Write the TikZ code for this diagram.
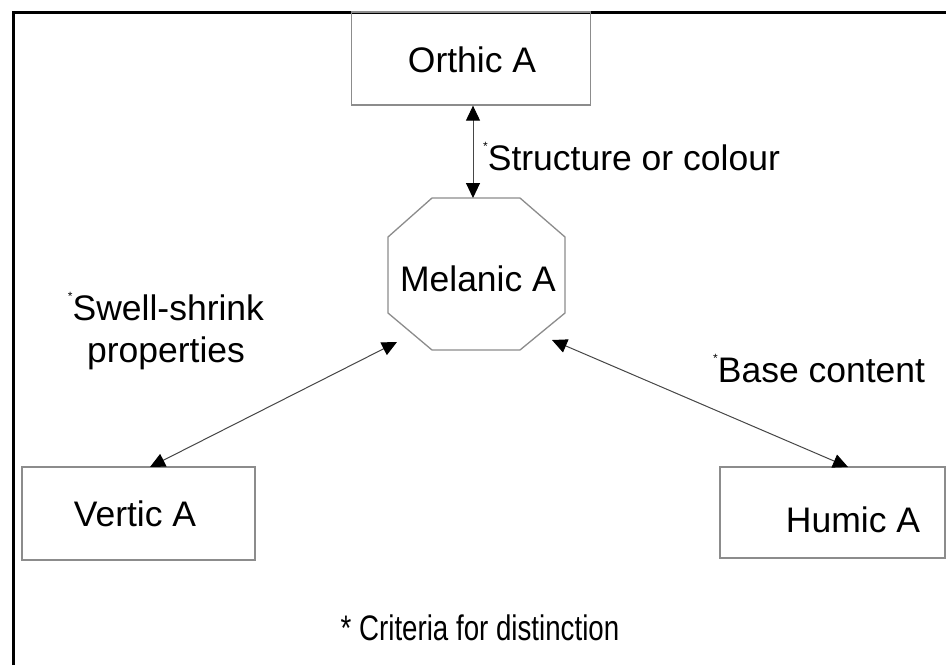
\documentclass[tikz,border=0pt]{standalone}
\usepackage{fontspec}
\setmainfont{Liberation Sans}
\usetikzlibrary{arrows.meta}
\definecolor{boxgray}{RGB}{140,140,140}
\definecolor{linegray}{RGB}{70,70,70}
\newcommand{\smallast}{\raisebox{0.55em}{\fontsize{12}{12}\selectfont *}}
\begin{document}
\begin{tikzpicture}[x=1pt,y=-1pt,
  box/.style={draw=boxgray, line width=1.3pt, inner sep=0pt},
  lab/.style={font=\fontsize{35.5}{42}\selectfont, inner sep=0pt, text=black},
  conn/.style={draw=linegray, line width=1pt,
    {Triangle[length=15pt,width=14pt,color=black]}-{Triangle[length=15pt,width=14pt,color=black]}}]
\useasboundingbox (0,0) rectangle (946,665);
\fill[white] (0,0) rectangle (946,665);
\draw[line width=3pt] (13,665) -- (13,12) -- (946,12);
% boxes
\node[box, minimum width=239pt, minimum height=93pt] (orthic) at (471,58.5) {};
\node[lab] (orthiclab) at (472,60) {Orthic A};
\node[box, minimum width=233pt, minimum height=93pt] (vertic) at (138.5,513.5) {};
\node[lab] (verticlab) at (135,514) {Vertic A};
\node[box, minimum width=225pt, minimum height=91pt] (humic) at (832.5,512.5) {};
\node[lab] (humiclab) at (853,520) {Humic A};
% octagon
\coordinate (o1) at (432,198);
\coordinate (o2) at (520,198);
\coordinate (o3) at (565,237);
\coordinate (o4) at (565,313);
\coordinate (o5) at (520,350);
\coordinate (o6) at (432,350);
\coordinate (o7) at (388,313);
\coordinate (o8) at (388,237);
\draw[draw=boxgray, line width=1.3pt] (o1) -- (o2) -- (o3) -- (o4) -- (o5) -- (o6) -- (o7) -- (o8) -- cycle;
\node[lab] (melanic) at (478,279) {Melanic A};
% connectors
\coordinate (mtop) at (473,198);
\coordinate (mleft) at (397,342);
\coordinate (mright) at (552,340);
\coordinate (vtop) at (150,467);
\coordinate (htop) at (848,467);
\draw[conn] (orthic.south -| mtop) -- (mtop);
\draw[conn] (mleft) -- (vtop);
\draw[conn] (mright) -- (htop);
% labels
\node[lab, anchor=base west] (lstruct) at (483,170) {\smallast Structure or colour};
\node[lab, anchor=base, align=center] (lswell) at (166,362) {\smallast Swell-shrink\\properties};
\node[lab, anchor=base west] (lbase) at (713,382) {\smallast Base content};
\node[lab, anchor=base] (lcrit) at (480,640) {\scalebox{0.78}[1]{* Criteria for distinction}};
\end{tikzpicture}
\end{document}
